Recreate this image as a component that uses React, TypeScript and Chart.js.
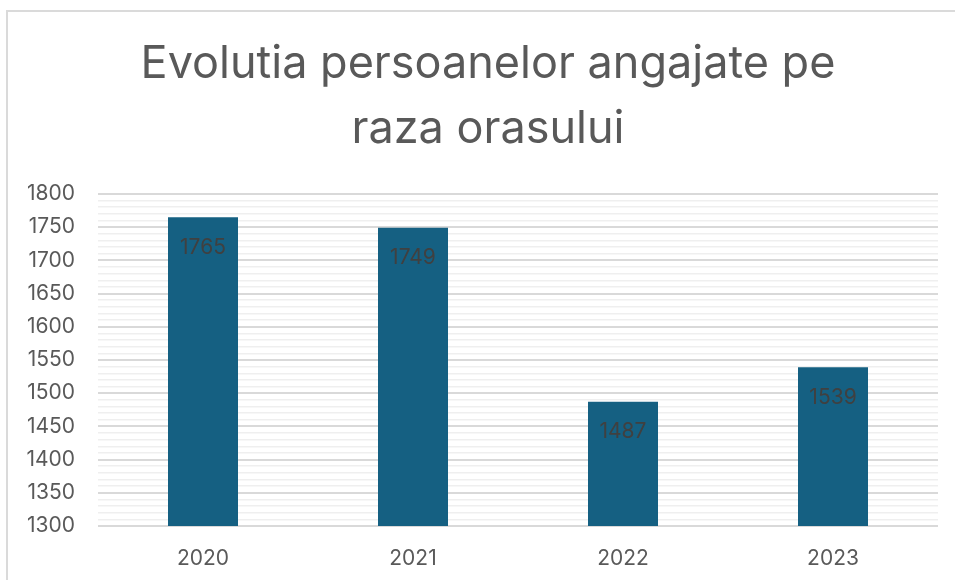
import React, { useEffect, useRef } from "react";
import { Chart, registerables } from "chart.js";

Chart.register(...registerables);

const categories = ["2020", "2021", "2022", "2023"];
const values = [1765, 1749, 1487, 1539];
const titleLines = ["Evolutia persoanelor angajate pe", "raza orasului"];
const yMin = 1300;
const yMax = 1800;

const FONT = "Inter, 'Noto Sans', sans-serif";

const dataLabelPlugin = {
  id: "dataLabelsInside",
  afterDatasetsDraw(chart: any) {
    const ctx = chart.ctx;
    const meta = chart.getDatasetMeta(0);
    ctx.save();
    ctx.fillStyle = "#404040";
    ctx.font = `21px ${FONT}`;
    ctx.textAlign = "center";
    ctx.textBaseline = "middle";
    meta.data.forEach((bar: any, i: number) => {
      ctx.fillText(String(values[i]), bar.x, bar.y + 30);
    });
    ctx.restore();
  },
};

export default function App() {
  const canvasRef = useRef<HTMLCanvasElement>(null);

  useEffect(() => {
    if (!canvasRef.current) return;
    const chart = new Chart(canvasRef.current, {
      type: "bar",
      data: {
        labels: categories,
        datasets: [
          {
            data: values,
            backgroundColor: "#156082",
            borderWidth: 0,
            barPercentage: 1,
            categoryPercentage: 1 / 3,
          },
        ],
      },
      options: {
        animation: false,
        responsive: false,
        maintainAspectRatio: false,
        layout: { padding: { left: 21, right: 0, top: 0, bottom: 0 } },
        plugins: {
          legend: { display: false },
          tooltip: { enabled: false },
          title: {
            display: true,
            text: titleLines,
            color: "#595959",
            font: { family: FONT, size: 45, weight: "normal", lineHeight: 1.444 },
            padding: { top: 32, bottom: 32 },
          },
        },
        scales: {
          x: {
            grid: { display: false },
            border: { display: false },
            ticks: {
              color: "#595959",
              font: { family: FONT, size: 21 },
              padding: 12,
            },
            afterFit: (s: any) => {
              s.height = 54;
            },
          },
          y: {
            min: yMin,
            max: yMax,
            border: { display: false },
            grid: {
              drawTicks: false,
              color: (c: any) => (c.tick && c.tick.value % 50 === 0 ? "#d9d9d9" : "#efefef"),
              lineWidth: (c: any) => (c.tick && c.tick.value % 50 === 0 ? 2 : 1.5),
            },
            ticks: {
              stepSize: 10,
              autoSkip: false,
              color: "#595959",
              font: { family: FONT, size: 21 },
              padding: 23,
              callback: (v: any) => (Number(v) % 50 === 0 ? String(v) : ""),
            },
            afterFit: (s: any) => {
              s.width = 77;
            },
          },
          yR: {
            type: "linear",
            position: "right",
            display: true,
            grid: { display: false },
            border: { display: false },
            ticks: { display: false },
            afterFit: (s: any) => {
              s.width = 17;
            },
          },
        },
      },
      plugins: [dataLabelPlugin],
    } as any);
    return () => chart.destroy();
  }, []);

  return (
    <div
      style={{
        position: "absolute",
        left: 0,
        top: 0,
        width: 955,
        height: 580,
        overflow: "hidden",
        background: "#ffffff",
      }}
    >
      <div
        style={{
          position: "absolute",
          left: 6,
          top: 10,
          width: 1000,
          height: 700,
          borderLeft: "2px solid #dadada",
          borderTop: "2px solid #dadada",
        }}
      />
      <canvas
        ref={canvasRef}
        width={955}
        height={580}
        style={{ position: "absolute", left: 0, top: 0, width: 955, height: 580 }}
      />
    </div>
  );
}
